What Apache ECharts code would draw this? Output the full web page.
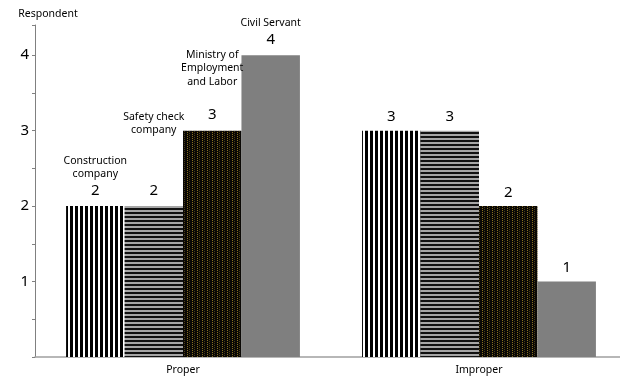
<!DOCTYPE html>
<html>
<head>
<meta charset="utf-8">
<script src="https://cdn.jsdelivr.net/npm/echarts@6/dist/echarts.min.js"></script>
<style>
  html, body { margin: 0; padding: 0; background: #fff; }
  #chart { width: 620px; height: 378px; }
</style>
</head>
<body>
<div id="chart"></div>
<script>
const categories = ['Proper', 'Improper'];
const groups = ['Construction company', 'Safety check company', 'Ministry of Employment and Labor', 'Civil Servant'];
const groupLines = [['Construction', 'company'], ['Safety check', 'company'], ['Ministry of', 'Employment', 'and Labor'], ['Civil Servant']];
const properValues = [2, 2, 3, 4];
const improperValues = [3, 3, 2, 1];
// extra space between the group name and the value label (Proper only)
const nameGaps = [0, 44, 17, 0];

function makePattern(kind) {
    const c = document.createElement('canvas');
    const ctx = c.getContext('2d');
    if (kind === 'vertical') {
        c.width = 5; c.height = 4;
        ctx.fillStyle = '#fff';
        ctx.fillRect(0, 0, 5, 4);
        ctx.fillStyle = '#000';
        ctx.fillRect(0, 0, 3, 4);
    } else if (kind === 'horizontal') {
        c.width = 4; c.height = 4;
        ctx.fillStyle = '#a6a6a6';
        ctx.fillRect(0, 0, 4, 4);
        ctx.fillStyle = '#111';
        ctx.fillRect(0, 0, 4, 2);
    } else {
        c.width = 5; c.height = 4;
        ctx.fillStyle = '#0a0805';
        ctx.fillRect(0, 0, 5, 4);
        ctx.fillStyle = '#8a7020';
        ctx.fillRect(2, 0, 1, 1);
        ctx.fillRect(2, 2, 1, 1);
        ctx.fillStyle = '#4a3c12';
        ctx.fillRect(4, 1, 1, 1);
        ctx.fillRect(4, 3, 1, 1);
    }
    return { image: c, repeat: 'repeat' };
}

const fills = [makePattern('vertical'), makePattern('horizontal'), makePattern('dots'), '#7f7f7f'];
const FONT = 'Noto Sans';

const series = groups.map((g, i) => {
    const nameText = groupLines[i].map(l => '{n|' + l + '}').join('\n');
    const gap = nameGaps[i] ? '\n{g|}' : '';
    return {
        name: g,
        type: 'bar',
        barGap: '0%',
        barCategoryGap: '21%',
        itemStyle: { color: fills[i] },
        label: {
            show: true,
            position: 'top',
            distance: 6,
            color: '#000',
            fontFamily: FONT,
            fontSize: 15
        },
        data: [
            {
                value: properValues[i],
                label: {
                    formatter: nameText + gap + '\n{v|' + properValues[i] + '}',
                    rich: {
                        n: { fontFamily: FONT, fontSize: 10.5, lineHeight: 13.5, color: '#000' },
                        g: { height: nameGaps[i], lineHeight: nameGaps[i] },
                        v: { fontFamily: FONT, fontSize: 15, lineHeight: 19, color: '#000' }
                    }
                }
            },
            { value: improperValues[i] }
        ]
    };
});

const chart = echarts.init(document.getElementById('chart'));
chart.setOption({
    animation: false,
    grid: { left: 35, width: 592, top: 25, bottom: 21, outerBoundsMode: 'none' },
    xAxis: {
        type: 'category',
        data: categories,
        axisLine: { lineStyle: { color: '#a0a0a0', width: 1.5 } },
        axisTick: { show: false },
        axisLabel: { color: '#000', fontFamily: FONT, fontSize: 10.5, margin: 8 }
    },
    yAxis: {
        type: 'value',
        min: 0,
        max: 4.4,
        interval: 1,
        name: 'Respondent',
        nameLocation: 'end',
        nameGap: 5,
        nameTextStyle: { color: '#000', fontFamily: FONT, fontSize: 10.5, align: 'center', padding: [0, 0, 0, 26] },
        axisLine: { show: true, lineStyle: { color: '#808080' } },
        axisTick: { show: true, length: 3, lineStyle: { color: '#808080' } },
        minorTick: { show: true, splitNumber: 2, length: 3, lineStyle: { color: '#808080' } },
        splitLine: { show: false },
        axisLabel: {
            color: '#000', fontFamily: FONT, fontSize: 15, margin: 6,
            formatter: v => (v === 0 || v > 4) ? '' : String(v)
        }
    },
    series: series
});
</script>
</body>
</html>
